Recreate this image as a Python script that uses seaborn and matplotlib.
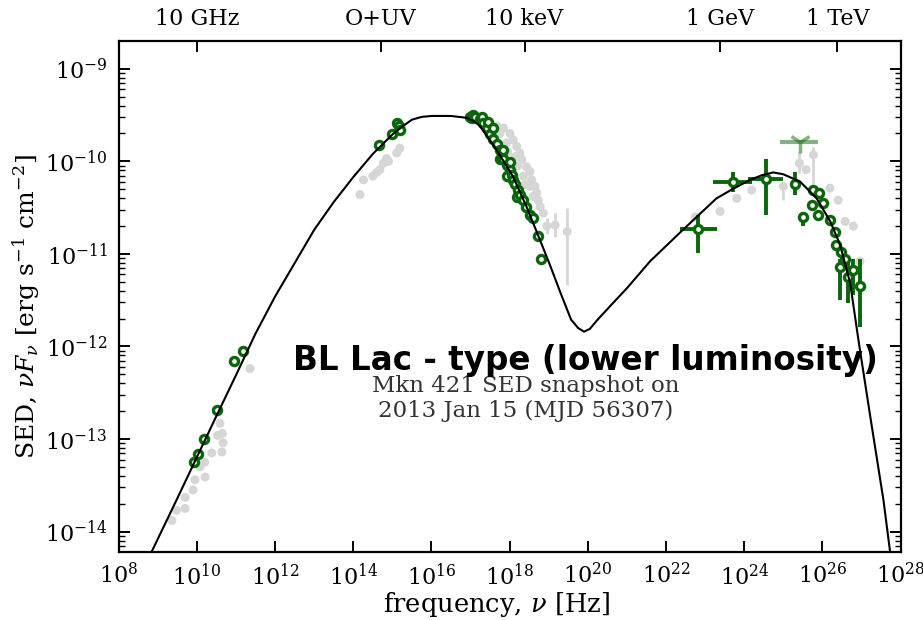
import numpy as np
import pandas as pd
import seaborn as sns
import matplotlib.pyplot as plt
from matplotlib.ticker import LogLocator, NullLocator, NullFormatter

# model curve, log10(nu) / log10(nuFnu)
model_lognu = [8.84, 9.5, 10.0, 10.5, 11.0, 11.5, 12.0, 12.5, 13.0, 13.5,
               14.0, 14.5, 15.0, 15.3, 15.5, 15.75, 16.0, 16.5, 16.9, 17.1,
               17.24, 17.67, 18.08, 18.43, 18.69, 19.03, 19.29, 19.57, 19.75, 19.9,
               20.05, 20.25, 20.6, 21.0, 21.59, 22.43, 23.29, 23.7, 24.15, 24.45,
               24.74, 25.0, 25.43, 25.85, 26.2, 26.45, 26.71, 26.92, 27.22, 27.56,
               27.73]
model_logsed = [-14.22, -13.64, -13.195, -12.75, -12.31, -11.86, -11.46, -11.10, -10.74, -10.44,
                -10.17, -9.92, -9.71, -9.61, -9.55, -9.52, -9.51, -9.51, -9.53, -9.57,
                -9.62, -9.88, -10.16, -10.49, -10.76, -11.12, -11.41, -11.71, -11.80, -11.84,
                -11.81, -11.71, -11.55, -11.37, -11.08, -10.74, -10.40, -10.30, -10.20, -10.15,
                -10.12, -10.14, -10.22, -10.40, -10.65, -10.90, -11.32, -11.93, -12.75, -13.66,
                -14.22]

# simultaneous data (green open circles)
green_lognu = [9.93, 10.04, 10.18, 10.52, 10.95, 11.17,
               14.67, 14.98, 15.11, 15.18, 15.19,
               16.98, 17.03, 17.07, 17.11, 17.24, 17.28, 17.33, 17.41, 17.45, 17.5, 17.58,
               17.58, 17.67, 17.75, 17.75, 17.8, 17.84, 17.84, 17.92, 17.92, 18.01,
               18.01, 18.05, 18.09, 18.14, 18.18, 18.22, 18.26, 18.35, 18.43, 18.52,
               18.6, 18.72, 18.79,
               25.72, 25.77, 25.90, 26.02, 25.89, 26.19, 26.31, 26.35, 26.47, 26.57]
green_logsed = [-13.25, -13.16, -13.0, -12.69, -12.16, -12.05,
                -9.82, -9.70, -9.59, -9.62, -9.66,
                -9.516, -9.53, -9.50, -9.52, -9.54, -9.52, -9.59, -9.64, -9.57, -9.70, -9.76,
                -9.64, -9.81, -9.88, -9.97, -9.95, -9.98, -9.88, -10.04, -10.16, -10.09,
                -10.01, -10.15, -10.2, -10.25, -10.38, -10.31, -10.36, -10.42, -10.49, -10.58,
                -10.61, -10.81, -11.06,
                -10.47, -10.31, -10.34, -10.45, -10.58, -10.63, -10.76, -10.90, -10.98, -11.05]

# green points with error bars (gamma rays)
gerr_lognu = [22.82, 23.70, 24.55, 25.30, 25.51, 26.44, 26.66, 26.79, 26.96]
gerr_logsed = [-10.73, -10.22, -10.19, -10.24, -10.60, -11.14, -11.25, -11.17, -11.35]
gerr_xlo = [22.36, 23.21, 24.10, 25.30, 25.51, 26.44, 26.66, 26.79, 26.96]
gerr_xhi = [23.29, 24.19, 25.00, 25.30, 25.51, 26.44, 26.66, 26.79, 26.96]
gerr_ylo = [-10.99, -10.33, -10.58, -10.36, -10.70, -11.50, -11.53, -11.44, -11.79]
gerr_yhi = [-10.58, -10.11, -9.97, -10.11, -10.55, -11.06, -11.10, -11.06, -11.06]

# faded green point
faded_lognu = [25.43]
faded_logsed = [-9.79]
faded_xlo = [24.92]
faded_xhi = [25.89]

# archival data (grey)
grey_lognu = [11.36, 10.59, 10.65, 10.53, 10.67, 10.64, 10.38, 10.2, 10.08, 10.21,
              9.95, 9.9, 9.7, 9.7, 9.48, 9.36,
              14.17, 14.26, 14.5, 14.68, 14.77, 14.85, 15.11, 15.19, 14.6, 14.9,
              17.67, 17.84, 18.01, 18.09, 18.18, 18.26, 18.31, 18.43, 18.52, 18.56,
              18.65, 18.69, 18.73, 18.78, 18.86, 17.92, 18.14, 18.35, 18.52,
              17.75, 17.95, 18.2, 18.4, 18.6,
              22.75, 23.38, 23.81, 24.19, 25.58, 26.19, 26.40, 26.58, 26.79, 26.96]
grey_logsed = [-12.24, -12.83, -12.94, -12.96, -13.04, -13.14, -13.15, -13.25, -13.3, -13.41,
               -13.44, -13.55, -13.63, -13.75, -13.77, -13.88,
               -10.36, -10.2, -10.16, -10.09, -10.02, -9.97, -9.91, -9.86, -10.12, -10.0,
               -9.62, -9.64, -9.70, -9.77, -9.84, -9.91, -9.98, -10.06, -10.11, -10.2,
               -10.27, -10.34, -10.42, -10.49, -10.56, -9.80, -9.95, -10.16, -10.27,
               -9.70, -9.90, -10.05, -10.25, -10.38,
               -10.6, -10.54, -10.40, -10.31, -10.09, -10.29, -10.42, -10.65, -10.70, -11.08]

gerr2_lognu = [25.41, 25.77, 25.0, 18.95, 19.16, 19.47]
gerr2_logsed = [-10.02, -9.93, -10.27, -10.70, -10.69, -10.76]
gerr2_ylo = [-10.13, -10.24, -10.42, -10.79, -10.82, -11.34]
gerr2_yhi = [-9.90, -9.85, -10.22, -10.61, -10.56, -10.50]

band_nu = [1e10, 10 ** 14.7, 10 ** 18.38, 10 ** 23.38, 10 ** 26.38]
band_labels = ["10 GHz", "O+UV", "10 keV", "1 GeV", "1 TeV"]

GREEN = "#0b650b"
GREY = "#d6d6d6"


def p(v):
    return 10 ** np.asarray(v, dtype=float)


sns.set_theme(style="ticks")
plt.rcParams["font.family"] = ["DejaVu Serif"]
plt.rcParams["mathtext.fontset"] = "dejavuserif"
plt.rcParams["text.color"] = "black"
plt.rcParams["axes.labelcolor"] = "black"
plt.rcParams["xtick.color"] = "black"
plt.rcParams["ytick.color"] = "black"

fig = plt.figure(figsize=(9.23, 6.2), dpi=100)
ax = fig.add_axes([0.1286, 0.1097, 0.8472, 0.8242])
ax.set_xscale("log")
ax.set_yscale("log")

# archival grey
ax.errorbar(p(gerr2_lognu), p(gerr2_logsed),
            yerr=[p(gerr2_logsed) - p(gerr2_ylo), p(gerr2_yhi) - p(gerr2_logsed)],
            fmt="none", ecolor=GREY, elinewidth=2, zorder=1)
grey = pd.DataFrame({"nu": p(grey_lognu + gerr2_lognu), "sed": p(grey_logsed + gerr2_logsed)})
sns.scatterplot(data=grey, x="nu", y="sed", ax=ax, color=GREY, s=42,
                edgecolor="none", zorder=2, legend=False)

# faded green
ax.errorbar(p(faded_lognu), p(faded_logsed),
            xerr=[p(faded_lognu) - p(faded_xlo), p(faded_xhi) - p(faded_lognu)],
            fmt="1", color=GREEN, alpha=0.5, ms=16, mew=2.5, elinewidth=3, zorder=3)

# green with error bars
ax.errorbar(p(gerr_lognu), p(gerr_logsed),
            xerr=[p(gerr_lognu) - p(gerr_xlo), p(gerr_xhi) - p(gerr_lognu)],
            yerr=[p(gerr_logsed) - p(gerr_ylo), p(gerr_yhi) - p(gerr_logsed)],
            fmt="none", ecolor=GREEN, elinewidth=2.8, zorder=3)
green = pd.DataFrame({"nu": p(green_lognu + gerr_lognu), "sed": p(green_logsed + gerr_logsed)})
sns.scatterplot(data=green, x="nu", y="sed", ax=ax, color="white", s=34,
                edgecolor=GREEN, linewidth=2.4, zorder=4, legend=False)

# model
model = pd.DataFrame({"nu": p(model_lognu), "sed": p(model_logsed)})
sns.lineplot(data=model, x="nu", y="sed", ax=ax, sort=False, color="black",
             lw=1.5, zorder=5, estimator=None)

ax.set_xlim(1e8, 1e28)
ax.set_ylim(10 ** -14.22, 10 ** -8.70)
ax.set_xticks([10.0 ** k for k in range(8, 29, 2)])
ax.xaxis.set_minor_locator(NullLocator())
ax.yaxis.set_major_locator(LogLocator(base=10, numticks=20))
ax.yaxis.set_minor_locator(LogLocator(base=10, subs=np.arange(2, 10), numticks=20))
ax.yaxis.set_minor_formatter(NullFormatter())
ax.tick_params(which="major", direction="in", length=8, width=1.4, labelsize=16,
               right=True, pad=8)
ax.tick_params(which="minor", direction="in", length=4, width=1, right=True)
ax.tick_params(axis="x", which="both", top=False)
for s in ax.spines.values():
    s.set_linewidth(1.6)
    s.set_color("black")

ax.set_xlabel(r"frequency, $\nu$ [Hz]", fontsize=18.5, labelpad=0)
ax.xaxis.set_label_coords(0.483, -0.075)
ax.set_ylabel(r"SED, $\nu F_\nu$ [erg s$^{-1}$ cm$^{-2}$]", fontsize=18)
ax.yaxis.set_label_coords(-0.098, 0.48)

top = ax.secondary_xaxis("top")
top.set_xticks(band_nu)
top.set_xticklabels(band_labels)
top.xaxis.set_minor_locator(NullLocator())
top.tick_params(axis="x", direction="in", length=8, width=1.4, labelsize=16, pad=8)

ax.text(10 ** 19.94, 10 ** -12.15, "BL Lac - type (lower luminosity)",
        ha="center", va="center", fontsize=23.5, fontweight="bold",
        family=["DejaVu Sans"], color="black", zorder=6)
ax.text(10 ** 18.42, 10 ** -12.56, "Mkn 421 SED snapshot on\n2013 Jan 15 (MJD 56307)",
        ha="center", va="center", fontsize=16.5, color="#333333", linespacing=1.18)

fig.savefig("out.png", dpi=100)
